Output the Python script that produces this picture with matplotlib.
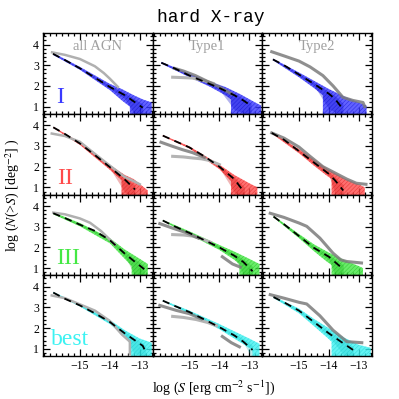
import numpy as np
import matplotlib
matplotlib.use("Agg")
import matplotlib.pyplot as plt
from matplotlib.ticker import MultipleLocator, FixedLocator

# %% data (log S, log N(>S))

nan = np.nan

# --- row I ---
I_all_mod_x = [-15.9, -15.5, -15.0, -14.5, -14.0, -13.5, -13.2, -12.9]
I_all_mod_y = [3.55, 3.25, 2.85, 2.4, 1.95, 1.55, 1.25, 0.95]
I_all_up_x = [-15.9, -15.0, -14.0, -13.6, -13.2, -12.9, -12.6]
I_all_up_y = [3.6, 2.92, 2.1, 1.85, 1.55, 1.35, 1.2]
I_all_lo_x = [-15.9, -15.0, -14.0, -13.6, -13.33, -13.33, -12.6]
I_all_lo_y = [3.5, 2.78, 1.8, 1.3, 1.0, 0.0, 0.0]
I_all_grey_x = [-15.93, -15.5, -15.0, -14.5, -14.2, -14.0, -13.73]
I_all_grey_y = [3.62, 3.5, 3.3, 2.95, 2.62, 2.35, 1.95]

I_t1_mod_x = [-15.94, -15.5, -15.0, -14.5, -14.0, -13.5, -13.2, -12.94]
I_t1_mod_y = [3.12, 2.85, 2.5, 2.2, 1.9, 1.55, 1.3, 1.04]
I_t1_up_x = [-15.94, -15.0, -14.3, -13.8, -13.3, -12.8, -12.6]
I_t1_up_y = [3.16, 2.6, 2.2, 1.95, 1.6, 1.2, 1.05]
I_t1_lo_x = [-15.94, -15.0, -14.3, -13.8, -13.61, -13.61, -12.6]
I_t1_lo_y = [3.08, 2.42, 1.95, 1.55, 1.35, 0.0, 0.0]
I_t1_dark_x = [-15.5, -15.2, -14.8, -14.4, -14.0, -13.6]
I_t1_dark_y = [2.85, 2.72, 2.5, 2.22, 1.95, 1.62]
I_t1_light_x = [-15.56, -15.2, -14.9, -14.5, -14.2]
I_t1_light_y = [2.42, 2.4, 2.38, 2.25, 2.12]

I_t2_mod_x = [-15.87, -15.5, -15.0, -14.5, -14.0, -13.8, -13.53]
I_t2_mod_y = [3.28, 3.0, 2.55, 2.1, 1.62, 1.38, 0.88]
I_t2_up_x = [-15.87, -15.0, -14.5, -14.0, -13.5, -13.0, -12.74]
I_t2_up_y = [3.32, 2.65, 2.25, 1.85, 1.5, 1.2, 1.05]
I_t2_lo_x = [-15.87, -15.0, -14.5, -14.2, -14.2, -12.74]
I_t2_lo_y = [3.24, 2.42, 1.9, 1.55, 0.0, 0.0]
I_t2_dark_x = [-15.91, -15.5, -15.0, -14.63, -14.2, -13.86, -13.53, -13.2, -12.86, -12.8]
I_t2_dark_y = [3.65, 3.45, 3.2, 2.92, 2.5, 2.0, 1.45, 1.3, 1.2, 1.0]

# --- row II ---
II_all_mod_x = [-15.89, -15.5, -15.0, -14.5, -14.0, -13.5, -13.16]
II_all_mod_y = [3.9, 3.58, 3.12, 2.56, 1.98, 1.38, 0.9]
II_all_up_x = [-15.89, -15.0, -14.0, -13.5, -13.2, -12.9, -12.73]
II_all_up_y = [3.93, 3.18, 2.08, 1.6, 1.4, 1.05, 0.85]
II_all_lo_x = [-15.89, -15.0, -14.0, -13.61, -13.61, -12.73]
II_all_lo_y = [3.87, 3.05, 1.85, 1.35, 0.0, 0.0]
II_all_grey_x = [-15.94, -15.5, -15.0, -14.5, -14.0, -13.5, -13.2, -13.0]
II_all_grey_y = [3.6, 3.48, 3.2, 2.62, 2.05, 1.5, 1.3, 1.15]

II_t1_mod_x = [-15.89, -15.5, -15.0, -14.5, -14.0, -13.5, -13.16]
II_t1_mod_y = [3.5, 3.25, 2.93, 2.5, 2.0, 1.4, 0.75]
II_t1_up_x = [-15.89, -15.0, -14.0, -13.5, -13.0, -12.73]
II_t1_up_y = [3.53, 2.98, 2.1, 1.6, 1.2, 1.0]
II_t1_lo_x = [-15.89, -15.0, -14.0, -13.61, -13.61, -12.73]
II_t1_lo_y = [3.47, 2.88, 1.88, 1.3, 0.0, 0.0]
II_t1_dark_x = [-15.95, -15.6, -15.23, -14.9, -14.5]
II_t1_dark_y = [3.18, 3.0, 2.82, 2.68, 2.45]
II_t1_light_x = [-15.56, -15.2, -14.9, -14.6, -14.33, -14.0]
II_t1_light_y = [2.5, 2.47, 2.42, 2.38, 2.3, 2.1]

II_t2_mod_x = [-15.91, -15.5, -15.0, -14.5, -14.0, -13.8, -13.52]
II_t2_mod_y = [3.63, 3.3, 2.75, 2.2, 1.65, 1.35, 0.85]
II_t2_up_x = [-15.91, -15.0, -14.5, -14.0, -13.5, -13.0, -12.8]
II_t2_up_y = [3.66, 2.85, 2.35, 1.85, 1.45, 1.15, 1.0]
II_t2_lo_x = [-15.91, -15.0, -14.5, -14.1, -13.91, -13.91, -12.8]
II_t2_lo_y = [3.6, 2.65, 2.05, 1.6, 1.4, 0.0, 0.0]
II_t2_dark_x = [-15.91, -15.5, -15.0, -14.63, -14.2, -13.8, -13.4, -13.08, -12.76]
II_t2_dark_y = [3.63, 3.38, 2.95, 2.5, 2.0, 1.7, 1.4, 1.2, 1.15]

# --- row III ---
III_all_mod_x = [-15.89, -15.5, -15.0, -14.5, -14.0, -13.5, -13.2, -12.85]
III_all_mod_y = [3.65, 3.42, 3.1, 2.8, 2.35, 1.7, 1.35, 0.95]
III_all_up_x = [-15.89, -15.0, -14.0, -13.5, -13.0, -12.73]
III_all_up_y = [3.7, 3.18, 2.45, 1.9, 1.45, 1.2]
III_all_lo_x = [-15.89, -15.0, -14.0, -13.5, -13.27, -13.27, -12.73]
III_all_lo_y = [3.6, 3.02, 2.2, 1.45, 1.1, 0.0, 0.0]
III_all_grey_x = [-15.89, -15.5, -15.0, -14.66, -14.3, -14.0, -13.83]
III_all_grey_y = [3.68, 3.6, 3.4, 3.19, 2.8, 2.38, 2.14]

III_t1_mod_x = [-15.89, -15.5, -15.0, -14.5, -14.0, -13.5, -13.2, -12.89]
III_t1_mod_y = [3.3, 3.02, 2.7, 2.35, 2.0, 1.6, 1.3, 0.85]
III_t1_up_x = [-15.89, -15.0, -14.0, -13.5, -13.0, -12.66]
III_t1_up_y = [3.33, 2.78, 2.12, 1.8, 1.45, 1.2]
III_t1_lo_x = [-15.89, -15.0, -14.0, -13.5, -13.33, -13.33, -12.66]
III_t1_lo_y = [3.27, 2.62, 1.88, 1.4, 1.2, 0.0, 0.0]
III_t1_dark_x = [-15.99, -15.6, -15.12, -14.7, nan, -13.9, -13.56, -13.3]
III_t1_dark_y = [3.15, 2.95, 2.72, 2.45, nan, 1.55, 1.2, 1.05]
III_t1_light_x = [-15.56, -15.2, -14.9, -14.6, -14.3]
III_t1_light_y = [2.62, 2.6, 2.55, 2.42, 2.25]

III_t2_mod_x = [-15.85, -15.5, -15.0, -14.5, -14.0, -13.8, -13.52]
III_t2_mod_y = [3.49, 3.12, 2.55, 1.98, 1.55, 1.3, 0.95]
III_t2_up_x = [-15.85, -15.0, -14.5, -14.0, -13.5, -13.0, -12.86]
III_t2_up_y = [3.53, 2.65, 2.15, 1.75, 1.4, 1.1, 1.0]
III_t2_lo_x = [-15.85, -15.0, -14.5, -14.1, -13.91, -13.91, -12.86]
III_t2_lo_y = [3.45, 2.45, 1.82, 1.35, 1.15, 0.0, 0.0]
III_t2_dark_x = [-15.96, -15.5, -15.0, -14.74, -14.3, -13.86, -13.6, -13.4, -12.91]
III_t2_dark_y = [3.65, 3.45, 3.18, 3.02, 2.45, 1.72, 1.4, 1.32, 1.25]

# --- row IV (best) ---
IV_all_mod_x = [-15.89, -15.5, -15.0, -14.5, -14.0, -13.5, -13.2, -12.9, -12.8]
IV_all_mod_y = [3.72, 3.42, 3.1, 2.72, 2.3, 1.75, 1.45, 1.15, 0.85]
IV_all_up_x = [-15.89, -15.0, -14.0, -13.5, -13.0, -12.6]
IV_all_up_y = [3.75, 3.15, 2.4, 1.9, 1.5, 1.3]
IV_all_lo_x = [-15.89, -15.0, -14.0, -13.5, -13.33, -13.33, -12.6]
IV_all_lo_y = [3.69, 3.05, 2.2, 1.6, 1.3, 0.0, 0.0]
IV_all_grey_x = [-15.94, -15.5, -15.0, -14.5, -14.0, -13.6, -13.33, -13.33]
IV_all_grey_y = [3.58, 3.45, 3.15, 2.85, 2.35, 1.7, 1.35, 0.6]

IV_t1_mod_x = [-15.89, -15.5, -15.0, -14.5, -14.0, -13.5, -13.2, -12.89]
IV_t1_mod_y = [3.33, 3.08, 2.78, 2.42, 2.05, 1.65, 1.35, 0.95]
IV_t1_up_x = [-15.89, -15.0, -14.0, -13.5, -13.0, -12.66]
IV_t1_up_y = [3.36, 2.85, 2.2, 1.85, 1.5, 1.25]
IV_t1_lo_x = [-15.89, -15.0, -14.0, -13.5, -13.0, -12.89, -12.89, -12.66]
IV_t1_lo_y = [3.3, 2.7, 1.95, 1.5, 1.05, 0.9, 0.0, 0.0]
IV_t1_dark_x = [-15.99, -15.44, -15.0, -14.6, nan, -13.9, -13.6, -13.33]
IV_t1_dark_y = [3.1, 2.86, 2.7, 2.45, nan, 1.6, 1.3, 1.1]
IV_t1_light_x = [-15.56, -15.2, -14.78, -14.4, -14.1]
IV_t1_light_y = [2.57, 2.52, 2.42, 2.28, 2.12]

IV_t2_mod_x = [-15.85, -15.5, -15.0, -14.5, -14.0, -13.5, -13.19]
IV_t2_mod_y = [3.5, 3.25, 2.85, 2.3, 1.75, 1.25, 0.95]
IV_t2_up_x = [-15.85, -15.0, -14.5, -14.0, -13.5, -13.0, -12.6]
IV_t2_up_y = [3.54, 2.95, 2.45, 2.0, 1.55, 1.2, 1.05]
IV_t2_lo_x = [-15.85, -15.0, -14.5, -14.1, -13.91, -13.91, -12.6]
IV_t2_lo_y = [3.46, 2.72, 2.1, 1.6, 1.35, 0.0, 0.0]
IV_t2_dark_x = [-15.96, -15.5, -15.0, -14.74, -14.3, -13.86, -13.4, -12.9]
IV_t2_dark_y = [3.62, 3.45, 3.25, 3.17, 2.6, 1.9, 1.35, 1.3]

rows = ["I", "II", "III", "best"]
cols = ["all AGN", "Type1", "Type2"]
row_colors = ["#3a3aff", "#ff4a4a", "#44e844", "#3cf2f2"]
row_dark = ["#0000c8", "#d01010", "#10b010", "#10c4c4"]
row_label_x = [-15.66, -15.5, -15.4, -15.33]

g = globals()
prefix = ["I", "II", "III", "IV"]
suffix = ["all", "t1", "t2"]

# %% plot

plt.rcParams["font.family"] = "Liberation Serif"
plt.rcParams["mathtext.fontset"] = "stix"
plt.rcParams["hatch.linewidth"] = 0.35

fig = plt.figure(figsize=(3.99, 3.99), dpi=100)

x0, y_top = 0.108, 0.917
w, h = 0.2745, 0.2024

for r in range(4):
    for c in range(3):
        ax = fig.add_axes([x0 + c * w, y_top - (r + 1) * h, w, h])
        key = prefix[r] + "_" + suffix[c] + "_"

        # model band
        ux, uy = g[key + "up_x"], g[key + "up_y"]
        lx, ly = g[key + "lo_x"], g[key + "lo_y"]
        px = list(ux) + list(lx)[::-1]
        py = list(uy) + list(ly)[::-1]
        ax.fill(px, py, color=row_colors[r], alpha=0.8, lw=0, zorder=2)
        ax.fill(px, py, facecolor="none", edgecolor=row_dark[r], hatch="////////",
                lw=0, alpha=0.6, zorder=2)

        # inner band
        mx = np.array(g[key + "mod_x"])
        my = np.array(g[key + "mod_y"])
        hi = np.interp(mx, ux, uy)
        lo = np.interp(mx, lx, ly)
        ax.fill_between(mx, my - 0.45 * (my - lo), my + 0.45 * (hi - my),
                        color=row_dark[r], alpha=0.3, lw=0, zorder=2)

        # data curves
        if c == 0:
            ax.plot(g[key + "grey_x"], g[key + "grey_y"], color="#b0b0b0",
                    lw=1.8, zorder=3)
        else:
            if key + "light_x" in g:
                ax.plot(g[key + "light_x"], g[key + "light_y"], color="#b4b4b4",
                        lw=2.2, zorder=3)
            ax.plot(g[key + "dark_x"], g[key + "dark_y"], color="#7c7c7c",
                    lw=2.2, alpha=0.85, zorder=3)

        # model line
        ax.plot(mx, my, color="k", lw=1.3, ls=(0, (4, 3)), zorder=4)

        ax.set_xlim(-16.23, -12.57)
        ax.set_ylim(0.65, 4.55)
        ax.xaxis.set_major_locator(FixedLocator([-15, -14, -13]))
        ax.xaxis.set_minor_locator(MultipleLocator(0.2))
        ax.yaxis.set_major_locator(MultipleLocator(1))
        ax.yaxis.set_minor_locator(MultipleLocator(0.2))
        ax.tick_params(which="both", direction="in", top=True, right=True,
                       labelsize=8.5, width=0.9, pad=3)
        ax.tick_params(which="major", length=5)
        ax.tick_params(which="minor", length=2.5)
        for sp in ax.spines.values():
            sp.set_linewidth(1.0)
        if c > 0:
            ax.set_yticklabels([])
        if r < 3:
            ax.set_xticklabels([])

        if r == 0:
            ax.text(-14.4, 3.88, cols[c], color="#a0a0a0", fontsize=10.5,
                    ha="center", va="center")
        if c == 0:
            ax.text(row_label_x[r], 1.45, rows[r], color=row_colors[r],
                    fontsize=17, ha="center", va="center")

fig.text(0.527, 0.957, "hard X-ray", family="Liberation Mono", fontsize=13,
         ha="center", va="center")
fig.text(0.535, 0.028, r"log ($S$ [erg cm$^{-2}$ s$^{-1}$])", fontsize=10,
         ha="center", va="center")
fig.text(0.033, 0.512, r"log ($N$(>$S$) [deg$^{-2}$] )", fontsize=10,
         ha="center", va="center", rotation=90)

fig.savefig("out.png", dpi=100)
